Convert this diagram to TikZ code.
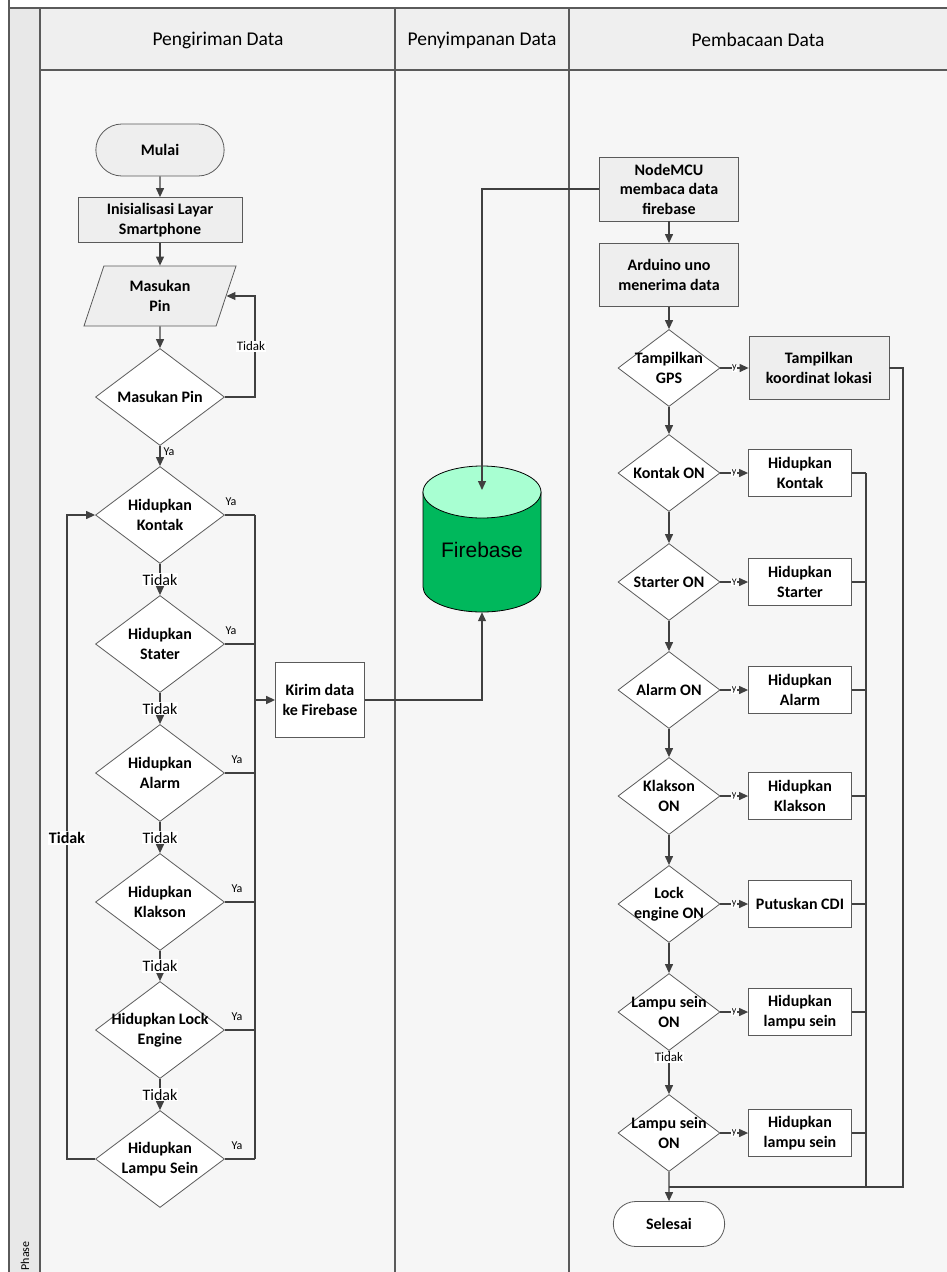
\documentclass[tikz,border=0pt]{standalone}
\usepackage{fontspec}
\setmainfont{Carlito}
\newfontfamily\fbfont{Liberation Sans}
\usetikzlibrary{arrows.meta,shapes.geometric,shapes.misc}

\definecolor{linec}{HTML}{404040}
\definecolor{framec}{HTML}{5A5A5A}
\definecolor{boxgrey}{HTML}{EEEEEE}
\definecolor{lanebg}{HTML}{F6F6F6}
\definecolor{headbg}{HTML}{EFEFEF}
\definecolor{phasebg}{HTML}{E8E8E8}
\definecolor{fbbody}{HTML}{00B85C}
\definecolor{fbtop}{HTML}{A8FFD2}

\begin{document}
\begin{tikzpicture}[x=1pt,y=-1pt,
    every node/.style={font=\fontsize{16}{19.5}\selectfont\bfseries,align=center,text=black},
    terminal/.style={rounded rectangle,draw=framec,line width=0.8pt,minimum width=135pt,minimum height=52pt},
    process/.style={rectangle,draw=framec,line width=0.8pt,fill=white,minimum width=103pt,minimum height=47pt,inner sep=2pt},
    io/.style={trapezium,trapezium left angle=62,trapezium right angle=118,trapezium stretches body,
      draw=framec,line width=0.8pt,fill=boxgrey,minimum width=152pt,minimum height=60pt},
    decision/.style={diamond,draw=framec,line width=0.8pt,fill=white,inner sep=-30pt,minimum width=129pt,minimum height=97pt},
    smalldec/.style={decision,minimum width=102pt,minimum height=77pt},
    head/.style={font=\fontsize{19.5}{22}\selectfont},
    line/.style={draw=linec,line width=1.2pt},
    arrow/.style={line,-{Triangle[length=9pt,width=8pt]}},
    tidak/.style={fill=white,inner sep=1pt,font=\fontsize{16}{18}\selectfont},
    tidaks/.style={fill=white,inner sep=1pt,font=\fontsize{13}{15}\selectfont},
    ya/.style={inner sep=1pt,font=\fontsize{12}{14}\selectfont},
    ylbl/.style={fill=white,inner sep=0.5pt,font=\fontsize{10}{12}\selectfont}]
    \useasboundingbox (0,0) rectangle (947,1272);

    % Swimlanes
    \fill[white] (0,0) rectangle (947,1272);
    \fill[phasebg] (9,8) rectangle (40,1272);
    \fill[headbg] (40,8) rectangle (947,70);
    \fill[lanebg] (40,70) rectangle (947,1272);
    \draw[framec,line width=1.2pt] (9,0) -- (9,1272) (9,8) -- (947,8) (40,70) -- (947,70)
      (40,8) -- (40,1272) (395,8) -- (395,1272) (569,8) -- (569,1272);
    \node[head] (lane1) at (218,40) {Pengiriman Data};
    \node[head] (lane2) at (482,40) {Penyimpanan Data};
    \node[head] (lane3) at (758,40) {Pembacaan Data};
    \node[font=\fontsize{12}{14}\selectfont,rotate=90] (phase) at (25,1256) {Phase};

    % Firebase cylinder
    \filldraw[fill=fbbody,draw=black,line width=0.8pt] (423,492) -- (423,587)
      arc[start angle=180,end angle=0,x radius=59,y radius=25] -- (541,492) -- cycle;
    \filldraw[fill=fbtop,draw=black,line width=0.8pt] (482,492) ellipse[x radius=59,y radius=26];
    \node[font=\fbfont\fontsize{21}{24}\selectfont,minimum width=118pt,minimum height=124pt] (fb) at (482,550) {Firebase};
    \coordinate (fbtop) at (482,490);

    % Pengiriman data
    \node[terminal,fill=boxgrey] (mulai) at (160,150) {Mulai};
    \node[process,fill=boxgrey,minimum width=164pt,minimum height=45pt] (init) at (160,220) {Inisialisasi Layar\\Smartphone};
    \node[io] (pin) at (160,296) {Masukan\\Pin};
    \node[decision] (cekpin) at (160,397) {Masukan Pin};
    \node[decision] (kontak) at (160,515) {Hidupkan\\Kontak};
    \node[decision] (stater) at (160,644) {Hidupkan\\Stater};
    \node[decision] (alarm) at (160,773) {Hidupkan\\Alarm};
    \node[decision] (klakson) at (160,902) {Hidupkan\\Klakson};
    \node[decision] (lock) at (160,1030) {Hidupkan Lock\\Engine};
    \node[decision] (sein) at (160,1159) {Hidupkan\\Lampu Sein};
    \node[process,minimum width=89pt,minimum height=75pt] (kirim) at (320,700) {Kirim data\\ke Firebase};
    \coordinate (yatop) at (255,515);
    \coordinate (yabot) at (255,1159);
    \coordinate (loop) at (67,838);

    \draw[arrow] (mulai) -- (init);
    \draw[arrow] (init) -- (pin);
    \draw[arrow] (pin) -- (cekpin);
    \draw[arrow] (cekpin.east) -- ++(30,0) |- node[tidaks,pos=0.25,xshift=-4pt] {Tidak} (pin.east);
    \draw[arrow] (cekpin) -- node[ya,pos=0.3,right=2pt] {Ya} (kontak);
    \draw[arrow] (kontak) -- node[tidak] {Tidak} (stater);
    \draw[arrow] (stater) -- node[tidak] {Tidak} (alarm);
    \draw[arrow] (alarm) -- node[tidak] {Tidak} (klakson);
    \draw[arrow] (klakson) -- node[tidak] {Tidak} (lock);
    \draw[arrow] (lock) -- node[tidak] {Tidak} (sein);

    % Ya branches to Kirim data
    \draw[line] (kontak.east) -- node[ya,pos=0.2,above=8pt] {Ya} (kontak.east -| yatop);
    \draw[line] (stater.east) -- node[ya,pos=0.2,above=8pt] {Ya} (stater.east -| yatop);
    \draw[line] (alarm.east) -- node[ya,pos=0.4,above=8pt] {Ya} (alarm.east -| yatop);
    \draw[line] (klakson.east) -- node[ya,pos=0.4,above=8pt] {Ya} (klakson.east -| yatop);
    \draw[line] (lock.east) -- node[ya,pos=0.4,above=8pt] {Ya} (lock.east -| yatop);
    \draw[line] (sein.east) -- node[ya,pos=0.4,above=8pt] {Ya} (sein.east -| yatop);
    \draw[line] (yatop) -- (yabot);
    \draw[arrow,line width=1.6pt] (kirim.west -| yatop) -- (kirim.west);
    \draw[arrow] (sein.west) -| (loop) node[tidak,font=\fontsize{16}{18}\selectfont\bfseries] {Tidak} |- (kontak.west);

    % To and from Firebase
    \draw[arrow] (kirim.east) -| (fb.south);

    % Pembacaan data
    \node[process,fill=boxgrey,minimum width=139pt,minimum height=64pt] (nodemcu) at (669,189) {NodeMCU\\membaca data\\firebase};
    \node[process,fill=boxgrey,minimum width=139pt,minimum height=63pt] (arduino) at (669,275) {Arduino uno\\menerima data};
    \node[smalldec] (gps) at (669,368) {Tampilkan\\GPS};
    \node[process,fill=boxgrey,minimum width=140pt,minimum height=63pt] (koordinat) at (819,368) {Tampilkan\\koordinat lokasi};
    \node[smalldec] (kontakon) at (669,473) {Kontak ON};
    \node[process] (hkontak) at (800,473) {Hidupkan\\Kontak};
    \node[smalldec] (starteron) at (669,582) {Starter ON};
    \node[process] (hstarter) at (800,582) {Hidupkan\\Starter};
    \node[smalldec] (alarmon) at (669,690) {Alarm ON};
    \node[process] (halarm) at (800,690) {Hidupkan\\Alarm};
    \node[smalldec] (klaksonon) at (669,796) {Klakson\\ON};
    \node[process] (hklakson) at (800,796) {Hidupkan\\Klakson};
    \node[smalldec] (lockon) at (669,904) {Lock\\engine ON};
    \node[process] (cdi) at (800,904) {Putuskan CDI};
    \node[smalldec] (seinon) at (669,1012) {Lampu sein\\ON};
    \node[process] (hsein) at (800,1012) {Hidupkan\\lampu sein};
    \node[smalldec] (seinon2) at (669,1133) {Lampu sein\\ON};
    \node[process] (hsein2) at (800,1133) {Hidupkan\\lampu sein};
    \node[terminal,fill=white,minimum width=118pt,minimum height=45pt] (selesai) at (669,1224) {Selesai};
    \coordinate (rbus) at (866,1187);
    \coordinate (obus) at (903,1187);
    \coordinate (merge) at (669,1187);

    \draw[arrow] (nodemcu.west) -| (fbtop);
    \draw[arrow] (nodemcu) -- (arduino);
    \draw[arrow] (arduino) -- (gps);
    \draw[arrow] (gps) -- node[ylbl] {y} (koordinat);
    \draw[arrow] (gps) -- (kontakon);
    \draw[arrow] (kontakon) -- node[ylbl] {y} (hkontak);
    \draw[arrow] (kontakon) -- (starteron);
    \draw[arrow] (starteron) -- node[ylbl] {Y} (hstarter);
    \draw[arrow] (starteron) -- (alarmon);
    \draw[arrow] (alarmon) -- node[ylbl] {y} (halarm);
    \draw[arrow] (alarmon) -- (klaksonon);
    \draw[arrow] (klaksonon) -- node[ylbl] {y} (hklakson);
    \draw[arrow] (klaksonon) -- (lockon);
    \draw[arrow] (lockon) -- node[ylbl] {y} (cdi);
    \draw[arrow] (lockon) -- (seinon);
    \draw[arrow] (seinon) -- node[ylbl] {y} (hsein);
    \draw[arrow] (seinon) -- node[tidaks,pos=0.15] {Tidak} (seinon2);
    \draw[arrow] (seinon2) -- node[ylbl] {y} (hsein2);

    % Back to Selesai
    \draw[line] (hkontak.east) -- (hkontak.east -| rbus);
    \draw[line] (hstarter.east) -- (hstarter.east -| rbus);
    \draw[line] (halarm.east) -- (halarm.east -| rbus);
    \draw[line] (hklakson.east) -- (hklakson.east -| rbus);
    \draw[line] (cdi.east) -- (cdi.east -| rbus);
    \draw[line] (hsein.east) -- (hsein.east -| rbus);
    \draw[line] (hsein2.east) -- (hsein2.east -| rbus);
    \draw[line] (hkontak.east -| rbus) -- (rbus);
    \draw[line] (koordinat.east) -| (obus) -- (merge);
    \draw[arrow] (seinon2) -- (selesai);

  \end{tikzpicture}
\end{document}
